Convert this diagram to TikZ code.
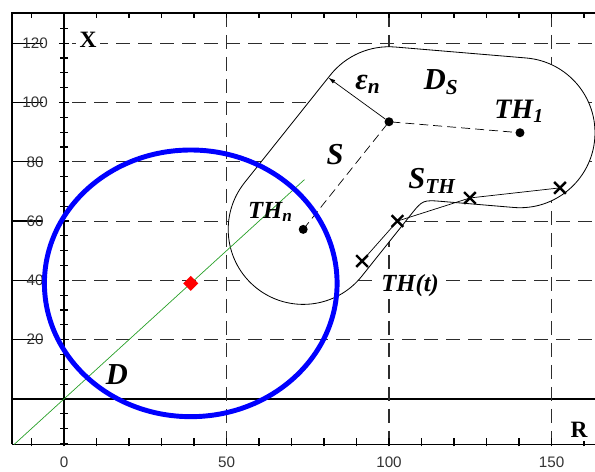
\documentclass[tikz,border=0pt]{standalone}
\usepackage{fontspec}
\setmainfont{Liberation Serif}
\setsansfont{Liberation Sans}
\usepackage{tikz}
\usetikzlibrary{calc,positioning,arrows.meta,shapes.geometric,shapes.misc}
\definecolor{plotblue}{RGB}{0,0,255}
\definecolor{plotred}{RGB}{255,0,0}
\definecolor{plotgreen}{RGB}{40,160,40}
\definecolor{gridgray}{RGB}{45,45,45}

\tikzset{
  gridline/.style={gridgray, line width=0.9pt, dash pattern=on 0.42cm off 0.24cm},
  pathdash/.style={black, line width=0.6pt, dash pattern=on 0.27cm off 0.15cm},
  framex/.style={black, line width=1pt},
  bigtxt/.style={font=\fontsize{26}{28}\selectfont\bfseries\itshape, inner sep=1pt},
  midtxt/.style={font=\fontsize{21}{23}\selectfont\bfseries\itshape, inner sep=1pt},
  axtxt/.style={font=\fontsize{20}{22}\selectfont\bfseries, fill=white, inner sep=3pt},
  numtxt/.style={font=\sffamily\fontsize{13}{15}\selectfont, text=black!80, inner sep=1pt},
  thdot/.style={circle, fill=black, inner sep=0pt, minimum size=0.27cm},
  xmark/.style={cross out, draw=black, line width=2pt, inner sep=0pt, minimum size=0.28cm},
}

\begin{document}
\begin{tikzpicture}[x=0.0975cm, y=0.08895cm]
    \useasboundingbox (-19.69,-24.62) rectangle (163.38,134.57);

    % Frame and axes
    \draw[framex] (-16,-15.35) -- (163.5,-15.35);
    \draw[framex] (-16,-15.35) -- (-16,130.2) -- (163.5,130.2);
    \draw[framex] (-16,0) -- (163.5,0);
    \draw[framex] (0,-15.35) -- (0,130.2);

    % Dashed grid
    \foreach \v in {20,40,...,120} {
        \draw[gridline] (2.5,\v) -- (163.5,\v);
        \draw[framex] (-16,\v) -- (-6.5,\v);
        \draw[framex] (-1.6,\v) -- (1.6,\v);
        \node[numtxt] (lv\v) at (-8.9,\v) {\v};
    }
    \foreach \h in {50,100,150} {
        \draw[gridline] (\h,130.2) -- (\h,-15.35);
        \node[numtxt] (lh\h) at (\h,-21.2) {\h};
    }
    \node[numtxt] (lh0) at (0,-21.2) {0};

    % Ticks
    \foreach \h in {-10,0,...,160} {
        \draw[framex] (\h,-16) -- (\h,-13.3);
        \draw[framex] (\h,130.2) -- (\h,128.5);
    }
    \foreach \v in {-15,-10,...,125}
        \draw[framex] (-1.1,\v) -- (1.1,\v);

    % Region D_S round the path S
    \def\rr{2.25cm}
    \coordinate (THn) at (73.6,57.2);
    \coordinate (Mid) at (100,93.5);
    \coordinate (TH1) at (140.3,89.8);
    \path (THn) ++(141.44:\rr) coordinate (a1)
          (Mid) ++(141.44:\rr) coordinate (a2)
          (TH1) ++(85.21:\rr) coordinate (b2)
          (TH1) ++(-94.79:\rr) coordinate (c1)
          (Mid) ++(-94.79:\rr) coordinate (c2)
          (THn) ++(-38.56:\rr) coordinate (d1)
          (Mid) ++(-38.56:\rr) coordinate (d2)
          (Mid) ++(144:\rr) coordinate (epsend);
    \coordinate (cc) at (intersection of c1--c2 and d1--d2);
    \coordinate (cca) at ($(cc)!0.6cm!(c1)$);
    \coordinate (ccb) at ($(cc)!0.6cm!(d1)$);
    \draw[black, line width=0.7pt, fill=white]
        (a1) -- (a2) arc[start angle=141.44, end angle=85.21, radius=\rr]
        -- (b2) arc[start angle=85.21, end angle=-94.79, radius=\rr]
        -- (cca) .. controls (cc) .. (ccb)
        -- (d1) arc[start angle=-38.56, end angle=-218.56, radius=\rr] -- cycle;

    % Path S and trajectory S_TH
    \draw[pathdash] (THn) -- (Mid) -- (TH1);
    \coordinate (P1) at (91.7,46.5);
    \coordinate (P2) at (102.6,60.0);
    \coordinate (P3) at (124.9,67.8);
    \coordinate (P4) at (152.6,71.2);
    \draw[black, line width=0.6pt] (P1) -- (P2) -- (P3) -- (P4);
    \foreach \p in {1,2,3,4}
        \node[xmark] (xm\p) at (P\p) {};
    \node[thdot] (dotn) at (THn) {};
    \node[thdot] (dotm) at (Mid) {};
    \node[thdot] (dot1) at (TH1) {};
    \draw[black, line width=0.6pt, -{Latex[length=6pt,width=3.5pt]}] (dotm) -- (epsend);

    % Line X = R, zone D and its centre
    \draw[plotgreen, line width=0.6pt] (-15.35,-15.35) -- (74,74);
    \draw[plotblue, line width=4.2pt] (39,39) circle[x radius=4.39cm, y radius=4cm];
    \node[diamond, fill=plotred, inner sep=0pt, minimum size=0.46cm] (ctr) at (39,39) {};

    % Labels
    \node[axtxt] (lblX) at (7.4,121.1) {X};
    \node[axtxt] (lblR) at (158.5,-10.5) {R};
    \node[bigtxt] (lblD) at (16.3,8.1) {D};
    \node[bigtxt] (lblDS) at (116.0,106.9) {D\textsubscript{S}};
    \node[bigtxt, font=\fontsize{24}{26}\selectfont\bfseries\itshape] (lblTH1) at (140.0,97.1) {TH\textsubscript{1}};
    \node[bigtxt] (lblS) at (83.4,82.3) {S};
    \node[bigtxt] (lblSTH) at (113.2,73.5) {S\textsubscript{TH}};
    \node[bigtxt] (lblEps) at (93.5,106.2) {ε\textsubscript{n}};
    \node[midtxt] (lblTHn) at (63.5,63.1) {TH\textsubscript{n}};
    \node[midtxt, fill=white] (lblTHt) at (106.5,38.4) {TH(t)};
\end{tikzpicture}
\end{document}
